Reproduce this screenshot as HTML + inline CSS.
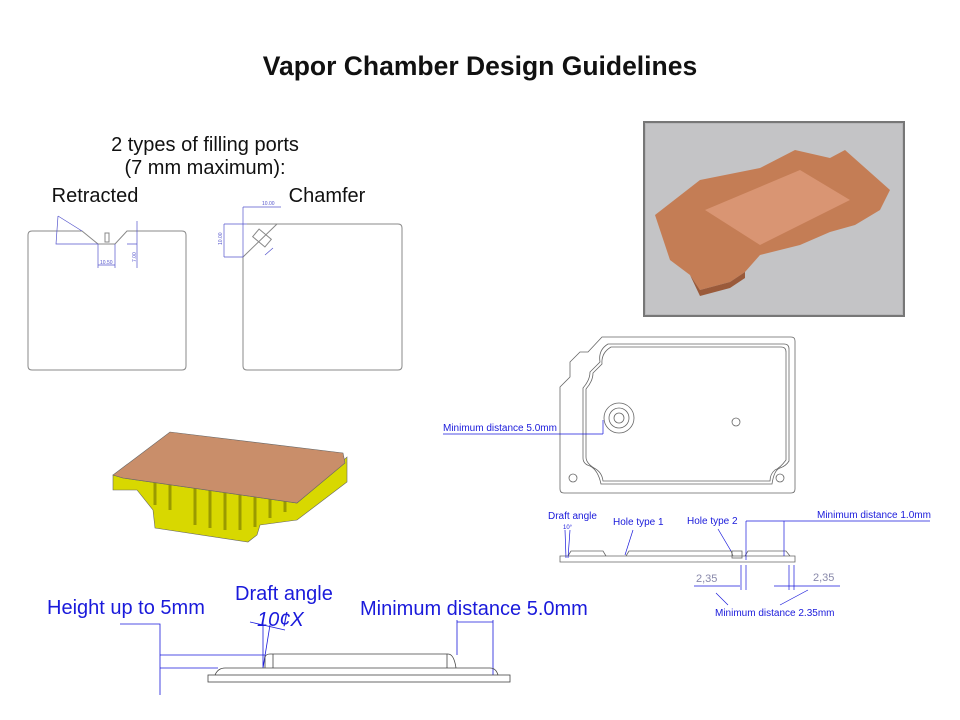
<!DOCTYPE html>
<html><head><meta charset="utf-8"><style>
body{margin:0;background:#fff;width:960px;height:720px;overflow:hidden}
svg{display:block}
text{font-family:"Liberation Sans",sans-serif}
</style></head><body>
<svg width="960" height="720" viewBox="0 0 960 720" xmlns="http://www.w3.org/2000/svg">
<text x="480" y="75" text-anchor="middle" font-size="26.5" font-weight="bold" fill="#111">Vapor Chamber Design Guidelines</text>
<text x="205" y="151" text-anchor="middle" font-size="20" fill="#111">2 types of filling ports</text>
<text x="205" y="174" text-anchor="middle" font-size="20" fill="#111">(7 mm  maximum):</text>
<text x="95" y="202" text-anchor="middle" font-size="20" fill="#111">Retracted</text>
<text x="327" y="202" text-anchor="middle" font-size="20" fill="#111">Chamfer</text>

<!-- Retracted -->
<g fill="none" stroke="#888" stroke-width="1">
<path d="M32 231 H82 L98 244 H115 L127 231 H182 Q186 231 186 235 V366 Q186 370 182 370 H32 Q28 370 28 366 V235 Q28 231 32 231Z"/>
<rect x="105" y="233" width="4" height="9"/>
<path d="M247 224 H398 Q402 224 402 228 V366 Q402 370 398 370 H247 Q243 370 243 366 V257 L277 224"/>
<rect x="254" y="233" width="16" height="10" transform="rotate(40 262 238)"/>
</g>
<g stroke="#55c" stroke-width="0.7" fill="none">
<path d="M58 216 L82 231 M58 216 L56 244 H98 M98 244 V268 M115 244 V268 M98 265 H115 M137 221 V268 M127 244 H137"/>
<path d="M243 207 H281 M243 207 V257 M224 224 H247 M224 257 H243 M224 224 V257 M265 255 L273 248"/>
</g>
<g font-size="5" fill="#55c"><text x="100" y="264">10.50</text><text x="262" y="205">10.00</text><text x="222" y="245" transform="rotate(-90 222 245)">10.00</text><text x="136" y="262" transform="rotate(-90 136 262)">7.00</text></g>

<!-- Photo -->
<rect x="644" y="122" width="260" height="194" fill="#b7b7b9" stroke="#777" stroke-width="2"/>
<rect x="646" y="124" width="256" height="190" fill="#c4c4c6"/>
<path d="M655 215 L700 180 L760 168 L795 150 L830 158 L845 150 L890 190 L880 210 L855 225 L830 232 L800 245 L760 255 L745 272 L730 282 L700 290 L690 275 L670 260 Z" fill="#c47d55"/>
<path d="M705 210 L800 170 L850 200 L760 245 Z" fill="#d99573"/>
<path d="M690 275 L700 290 L730 282 L745 272 L745 278 L730 288 L700 296 Z" fill="#9a5a3a"/>

<!-- 3D heatsink -->
<path d="M113 475 L113 490 L137 490 L153 510 L155 528 L248 542 L257 535 L260 525 L297 520 L347 482 L347 457 L297 503 L123 478 Z" fill="#d8d800" stroke="#666" stroke-width="0.6"/>
<g stroke="#9a9a00" stroke-width="3"><path d="M155 482 V505 M170 484 V510 M195 486 V525 M210 488 V528 M225 490 V530 M240 492 V530 M255 493 V527 M270 494 V518 M285 496 V512"/></g>
<path d="M113 475 L170 432 L343 453 L345 463 L297 503 L123 478 Z" fill="#c98e6a" stroke="#666" stroke-width="0.6"/>

<!-- Bottom drawing -->
<g font-size="20" fill="#1a1adb">
<text x="47" y="614">Height up to 5mm</text>
<text x="235" y="600">Draft angle</text>
<text x="257" y="626" font-style="italic">10¢X</text>
<text x="360" y="615">Minimum distance 5.0mm</text>
</g>
<g stroke="#1a1adb" stroke-width="0.8" fill="none">
<path d="M120 624 H160 V695 M160 655 H265 M160 668 H218 M263 668 L270 625 M263 668 V622 M250 622 L285 630 M457 655 V620 M493 675 V620 M457 622 H493"/>
</g>
<g stroke="#444" stroke-width="0.8" fill="none">
<rect x="208" y="675" width="302" height="7"/>
<path d="M215 675 Q218 668 225 668 H490 Q496 668 498 675 M265 668 V657 Q266 654 270 654 H448 Q454 654 456 668 M273 654 V668 M447 654 V668"/>
</g>

<!-- Right drawing -->
<g stroke="#666" stroke-width="0.8" fill="none">
<path d="M602 337 H791 Q795 337 795 341 V489 Q795 493 791 493 H564 Q560 493 560 489 V387 L570 377 V362 L580 352 H588 Z"/>
<path d="M608 344 H784 Q789 344 789 349 V461 Q786 466 780 468 Q774 470 772 484 H601 Q598 470 590 466 Q583 464 583 458 V388 Q590 380 590 372 L600 362 Q598 350 608 344Z"/>
<path d="M611 347 H781 Q786 347 786 352 V460 Q780 468 775 470 Q770 474 770 481 H603 Q602 472 594 468 Q586 463 586 457 V389 Q593 381 593 373 L602 364 Q601 353 611 347Z"/>
<circle cx="619" cy="418" r="15"/><circle cx="619" cy="418" r="10"/><circle cx="619" cy="418" r="5"/>
<circle cx="736" cy="422" r="4"/><circle cx="573" cy="478" r="4"/><circle cx="780" cy="478" r="4"/>
<path d="M560 556 H795 V562 H560Z M568 556 L571 551 H603 L606 556 M626 556 L629 551 H731 L733 556 M745 556 L748 551 H786 L790 556"/>
<rect x="732" y="551" width="10" height="7"/>
</g>
<g stroke="#1a1adb" stroke-width="0.7" fill="none">
<path d="M443 434 H603 M603 434 V420 M746 521 H930 M746 521 V560 M784 521 V556 M694 586 H740 M774 586 H840 M741 565 V590 M746 565 V590 M789 565 V590 M794 565 V590 M728 605 L716 593 M780 605 L808 590 M633 530 L625 555 M718 529 L731 551 M565 530 L566 558 M570 530 L568 558"/>
</g>
<g font-size="10" fill="#1a1adb">
<text x="443" y="431">Minimum distance 5.0mm</text>
<text x="548" y="519">Draft angle</text>
<text x="613" y="525">Hole type 1</text>
<text x="687" y="524">Hole type 2</text>
<text x="817" y="518">Minimum distance 1.0mm</text>
<text x="715" y="616">Minimum distance 2.35mm</text>
<text x="563" y="529" font-size="6">10°</text>
</g>
<g font-size="11" fill="#88a"><text x="696" y="582">2,35</text><text x="813" y="581">2,35</text></g>
</svg>
</body></html>
